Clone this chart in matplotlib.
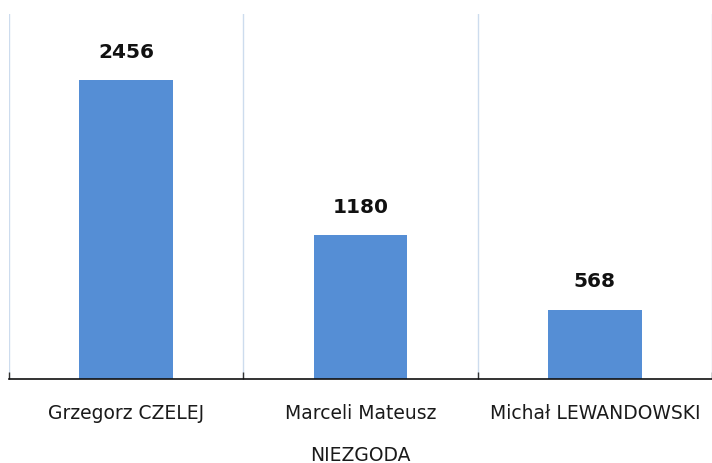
import matplotlib.pyplot as plt
import numpy as np

# chart data
names = ["Grzegorz CZELEJ", "Marceli Mateusz\nNIEZGODA", "Michał LEWANDOWSKI"]
votes = [2456, 1180, 568]

BAR_COLOR = "#558ed5"

fig = plt.figure(figsize=(7.12, 4.64), dpi=100)
ax = fig.add_axes([9 / 712, 84 / 464, 703 / 712, 365 / 464])

x = np.arange(len(names))
ax.bar(x, votes, width=0.4, color=BAR_COLOR, zorder=2)

ax.set_xlim(-0.5, len(names) - 0.5)
ax.set_ylim(0, 3000)

# value labels above bars
for xi, v in zip(x, votes):
    ax.annotate(f"{v}", (xi, v), xytext=(0, 21), textcoords="offset points",
                ha="center", va="center", fontsize=14.5, fontweight="bold",
                color="#111111")

# category separators as light vertical gridlines
bounds = np.arange(len(names) + 1) - 0.5
for b in bounds:
    ax.axvline(b, color="#cddcee", linewidth=1.0, zorder=1)

for side in ("top", "right", "left"):
    ax.spines[side].set_visible(False)
ax.spines["bottom"].set_color("#111111")
ax.spines["bottom"].set_linewidth(1.2)

ax.set_yticks([])
ax.set_xticks(x)
ax.set_xticklabels(names, fontsize=13.5, color="#1a1a1a", linespacing=2.55,
                   va="top")
ax.tick_params(axis="x", which="major", length=0, pad=17)
ax.set_xticks(bounds, minor=True)
ax.tick_params(axis="x", which="minor", direction="in", length=5,
               color="#333333", width=1)

fig.savefig("out.png", dpi=100)
